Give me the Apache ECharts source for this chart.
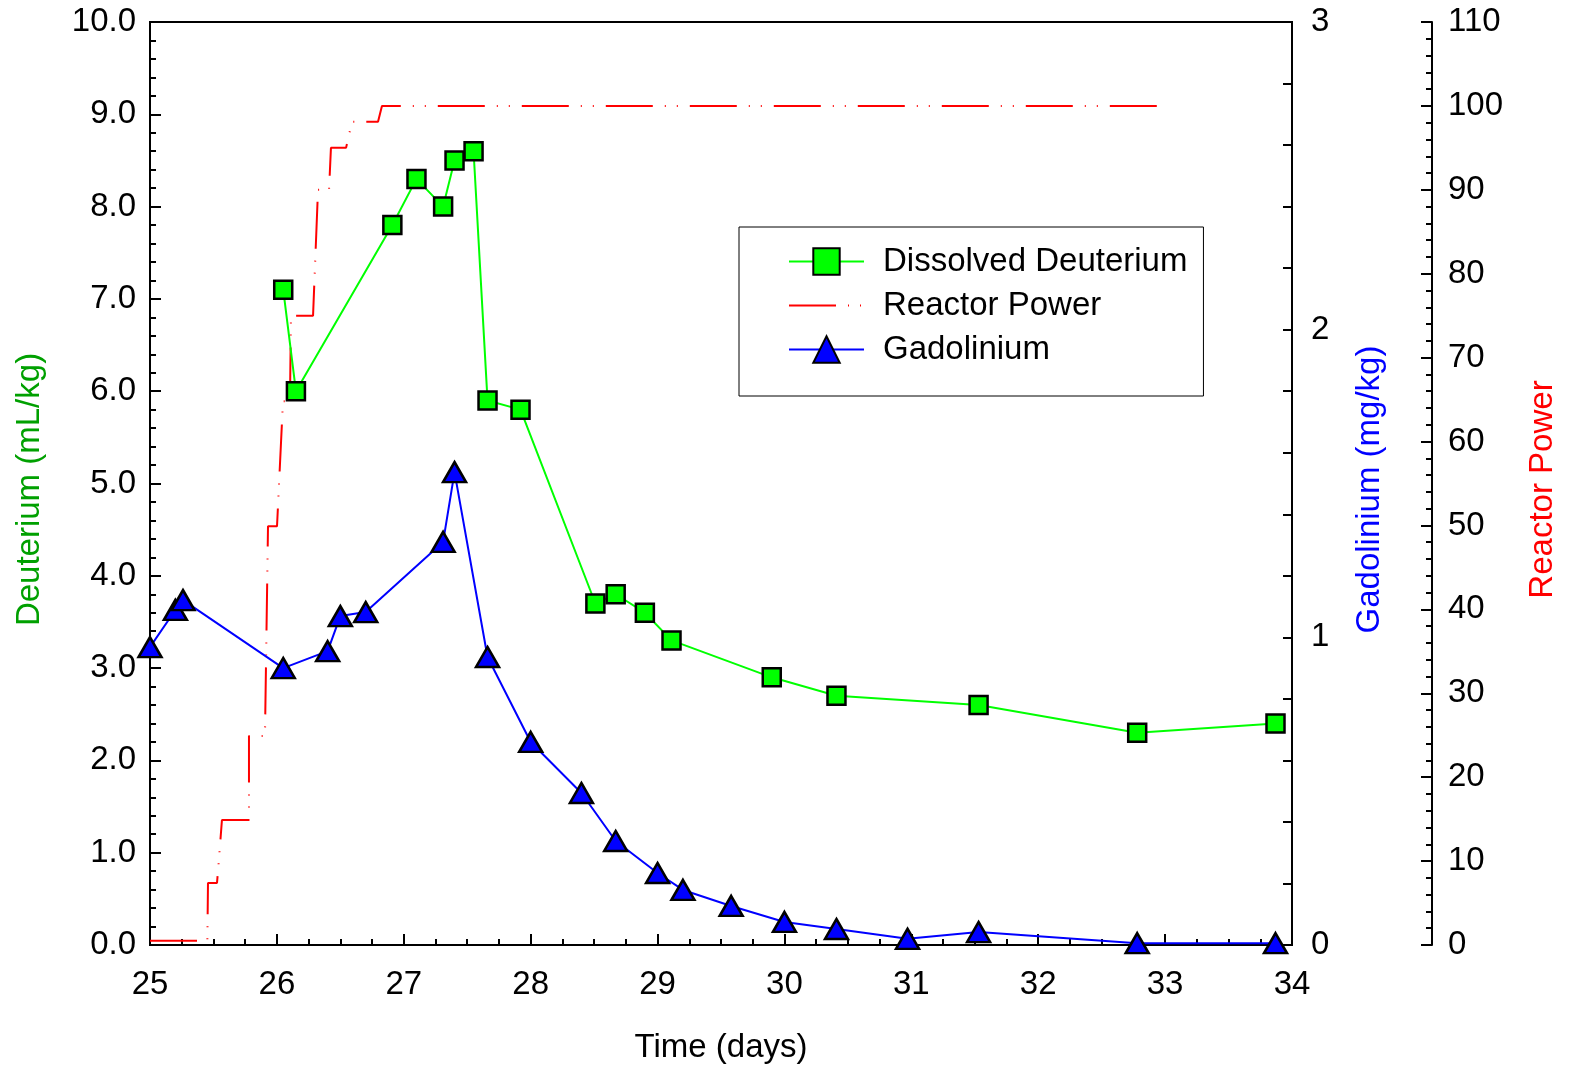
<!DOCTYPE html>
<html>
<head>
<meta charset="utf-8">
<title>Deuterium, Gadolinium and Reactor Power</title>
<script src="https://cdn.jsdelivr.net/npm/echarts@6/dist/echarts.min.js"></script>
<style>
  html, body { margin: 0; padding: 0; background: #fff; }
  #chart { width: 1570px; height: 1066px; }
</style>
</head>
<body>
<div id="chart"></div>
<script>
// Dissolved deuterium (mL/kg)
var deutTime = [26.05, 26.15, 26.91, 27.10, 27.31, 27.40, 27.55, 27.66, 27.92, 28.51, 28.67, 28.90, 29.11, 29.90, 30.41, 31.53, 32.78, 33.87]
var deutVal = [7.1, 6.0, 7.8, 8.3, 8.0, 8.5, 8.6, 5.9, 5.8, 3.7, 3.8, 3.6, 3.3, 2.9, 2.7, 2.6, 2.3, 2.4]

// Gadolinium (mg/kg)
var gdTime = [25.0, 25.2, 25.26, 26.05, 26.40, 26.50, 26.70, 27.31, 27.40, 27.66, 28.0, 28.40, 28.67, 29.0, 29.2, 29.58, 30.0, 30.41, 30.97, 31.53, 32.78, 33.87]
var gdVal = [0.968, 1.089, 1.121, 0.900, 0.955, 1.069, 1.082, 1.310, 1.537, 0.936, 0.660, 0.494, 0.338, 0.234, 0.179, 0.127, 0.075, 0.052, 0.020, 0.042, 0.006, 0.006]

// Reactor power (%)
var powerTime = [25.0, 25.394, 25.452, 25.457, 25.528, 25.536, 25.567, 25.780, 25.780, 25.906, 25.914, 25.930, 26.001, 26.048, 26.103, 26.111, 26.285, 26.324, 26.411, 26.426, 26.545, 26.592, 26.797, 26.828, 32.96]
var powerVal = [0.5, 0.5, 0.5, 7.4, 7.4, 8.8, 14.9, 14.9, 24.9, 24.9, 24.9, 49.9, 49.9, 64.8, 64.8, 75.0, 75.0, 90.0, 90.0, 95.0, 95.0, 98.1, 98.1, 100.0, 100.0]

// axis ranges
var timeRange = [25, 34]
var deutRange = [0, 10]
var gdRange = [0, 3]
var powerRange = [0, 110]

function pairs (xs, ys) {
  var out = []
  for (var i = 0; i < xs.length; i++) {
    out.push([xs[i], ys[i]])
  }
  return out
}

var font = 'Liberation Sans, Arial, sans-serif'
var fs = 33
var tickStyle = { color: '#000', width: 2 }

var myChart = echarts.init(document.getElementById('chart'))

var option = {
  animation: false,
  backgroundColor: '#fff',
  textStyle: { fontFamily: font },
  grid: {
    left: 150,
    right: 278,
    top: 22,
    bottom: 121,
    outerBoundsMode: 'none',
    containLabel: false,
    show: true,
    borderColor: '#000',
    borderWidth: 2
  },
  legend: {
    orient: 'vertical',
    left: 739,
    top: 227,
    padding: [18, 16, 30, 49],
    itemGap: 11,
    itemWidth: 75,
    itemHeight: 33,
    backgroundColor: '#fff',
    borderColor: '#000',
    borderWidth: 1,
    textStyle: { fontSize: fs, color: '#000', fontFamily: font, lineHeight: 33, padding: [0, 0, 0, 14] },
    data: [
      'Dissolved Deuterium',
      { name: 'Reactor Power', itemStyle: { opacity: 0 } },
      'Gadolinium'
    ]
  },
  xAxis: {
    type: 'value',
    min: timeRange[0],
    max: timeRange[1],
    interval: 1,
    name: 'Time (days)',
    nameLocation: 'middle',
    nameGap: 86,
    nameTextStyle: { fontSize: fs, color: '#000', fontFamily: font },
    axisLine: { show: true, onZero: false, lineStyle: tickStyle },
    axisTick: { show: true, inside: true, length: 11, lineStyle: tickStyle },
    minorTick: { show: true, splitNumber: 4, length: 6, lineStyle: tickStyle },
    splitLine: { show: false },
    axisLabel: { fontSize: fs, color: '#000', margin: 23, fontFamily: font }
  },
  yAxis: [
    {
      type: 'value',
      position: 'left',
      min: deutRange[0],
      max: deutRange[1],
      interval: 1,
      name: 'Deuterium (mL/kg)',
      nameLocation: 'middle',
      nameRotate: 90,
      nameGap: 104,
      nameTextStyle: { fontSize: fs, color: '#00a000', fontFamily: font, padding: [0, 12, 0, 0] },
      axisLine: { show: true, onZero: false, lineStyle: tickStyle },
      axisTick: { show: true, inside: true, length: 11, lineStyle: tickStyle },
      minorTick: { show: true, splitNumber: 5, length: 6, lineStyle: tickStyle },
      splitLine: { show: false },
      axisLabel: {
        fontSize: fs,
        color: '#000',
        margin: 14,
        fontFamily: font,
        formatter: function (v) { return v.toFixed(1) }
      }
    },
    {
      type: 'value',
      position: 'right',
      min: gdRange[0],
      max: gdRange[1],
      interval: 1,
      name: 'Gadolinium (mg/kg)',
      nameLocation: 'middle',
      nameRotate: 90,
      nameGap: 61,
      nameTextStyle: { fontSize: fs, color: '#0000ff', fontFamily: font, padding: [0, 12, 0, 0] },
      axisLine: { show: true, onZero: false, lineStyle: tickStyle },
      axisTick: { show: true, inside: true, length: 9, lineStyle: tickStyle },
      minorTick: { show: true, splitNumber: 5, length: 9, lineStyle: tickStyle },
      splitLine: { show: false },
      axisLabel: { fontSize: fs, color: '#000', margin: 19, fontFamily: font }
    },
    {
      type: 'value',
      position: 'right',
      offset: 140,
      min: powerRange[0],
      max: powerRange[1],
      interval: 10,
      name: 'Reactor Power',
      nameLocation: 'middle',
      nameRotate: 90,
      nameGap: 94,
      nameTextStyle: { fontSize: fs, color: '#ff0000', fontFamily: font, padding: [0, 12, 0, 0] },
      axisLine: { show: true, onZero: false, lineStyle: tickStyle },
      axisTick: { show: true, inside: true, length: 11, lineStyle: tickStyle },
      minorTick: { show: true, splitNumber: 5, length: 6, lineStyle: tickStyle },
      splitLine: { show: false },
      axisLabel: { fontSize: fs, color: '#000', margin: 16, fontFamily: font }
    }
  ],
  series: [
    {
      name: 'Reactor Power',
      type: 'line',
      yAxisIndex: 2,
      data: pairs(powerTime, powerVal),
      showSymbol: false,
      symbol: 'none',
      z: 2,
      lineStyle: { color: '#ff0000', width: 2, type: [47, 12, 1, 11, 1, 12] },
      itemStyle: { color: '#ff0000' }
    },
    {
      name: 'Dissolved Deuterium',
      type: 'line',
      yAxisIndex: 0,
      data: pairs(deutTime, deutVal),
      symbol: 'rect',
      symbolSize: 18,
      clip: false,
      z: 3,
      lineStyle: { color: '#00ff00', width: 2 },
      itemStyle: { color: '#00ff00', borderColor: '#000', borderWidth: 2.5 }
    },
    {
      name: 'Gadolinium',
      type: 'line',
      yAxisIndex: 1,
      data: pairs(gdTime, gdVal),
      symbol: 'triangle',
      symbolSize: [23, 20],
      clip: false,
      z: 4,
      lineStyle: { color: '#0000ff', width: 2 },
      itemStyle: { color: '#0000ff', borderColor: '#000', borderWidth: 2.5 }
    }
  ]
}

if (option && typeof option === 'object') {
  myChart.setOption(option, true)
}
</script>
</body>
</html>
